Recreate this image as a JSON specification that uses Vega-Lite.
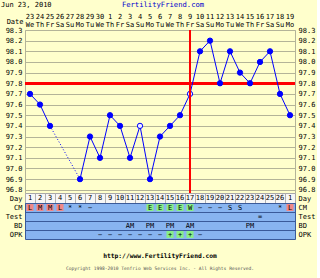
{
  "$schema": "https://vega.github.io/schema/vega-lite/v6.json",
  "background": "#FFFFCC",
  "padding": {"left": 1, "top": 0, "right": 1, "bottom": 0},
  "spacing": 0,
  "bounds": "flush",
  "resolve": {"scale": {"x": "shared"}},
  "config": {
    "font": "DejaVu Sans Mono",
    "view": {"stroke": null},
    "axis": {"labelFont": "DejaVu Sans Mono", "labelFontSize": 7, "labelColor": "#000000", "ticks": false, "domain": false, "labelPadding": 3},
    "text": {"font": "DejaVu Sans Mono", "fontSize": 7, "color": "#000000"}
  },
  "datasets": {
    "days": [
      {"day": 1, "num": "23", "wd": "We", "cd": "1"},
      {"day": 2, "num": "24", "wd": "Th", "cd": "2"},
      {"day": 3, "num": "25", "wd": "Fr", "cd": "3"},
      {"day": 4, "num": "26", "wd": "Sa", "cd": "4"},
      {"day": 5, "num": "27", "wd": "Su", "cd": "5"},
      {"day": 6, "num": "28", "wd": "Mo", "cd": "6"},
      {"day": 7, "num": "29", "wd": "Tu", "cd": "7"},
      {"day": 8, "num": "30", "wd": "We", "cd": "8"},
      {"day": 9, "num": "1", "wd": "Th", "cd": "9"},
      {"day": 10, "num": "2", "wd": "Fr", "cd": "10"},
      {"day": 11, "num": "3", "wd": "Sa", "cd": "11"},
      {"day": 12, "num": "4", "wd": "Su", "cd": "12"},
      {"day": 13, "num": "5", "wd": "Mo", "cd": "13"},
      {"day": 14, "num": "6", "wd": "Tu", "cd": "14"},
      {"day": 15, "num": "7", "wd": "We", "cd": "15"},
      {"day": 16, "num": "8", "wd": "Th", "cd": "16"},
      {"day": 17, "num": "9", "wd": "Fr", "cd": "17"},
      {"day": 18, "num": "10", "wd": "Sa", "cd": "18"},
      {"day": 19, "num": "11", "wd": "Su", "cd": "19"},
      {"day": 20, "num": "12", "wd": "Mo", "cd": "20"},
      {"day": 21, "num": "13", "wd": "Tu", "cd": "21"},
      {"day": 22, "num": "14", "wd": "We", "cd": "22"},
      {"day": 23, "num": "15", "wd": "Th", "cd": "23"},
      {"day": 24, "num": "16", "wd": "Fr", "cd": "24"},
      {"day": 25, "num": "17", "wd": "Sa", "cd": "25"},
      {"day": 26, "num": "18", "wd": "Su", "cd": "26"},
      {"day": 27, "num": "19", "wd": "Mo", "cd": "1"}
    ],
    "temps": [
      {"day": 1, "t": 97.7}, {"day": 2, "t": 97.6}, {"day": 3, "t": 97.4},
      {"day": 4, "t": null}, {"day": 5, "t": null}, {"day": 6, "t": 96.9},
      {"day": 7, "t": 97.3}, {"day": 8, "t": 97.1}, {"day": 9, "t": 97.5},
      {"day": 10, "t": 97.4}, {"day": 11, "t": 97.1}, {"day": 12, "t": 97.4, "open": true},
      {"day": 13, "t": 96.9}, {"day": 14, "t": 97.3}, {"day": 15, "t": 97.4},
      {"day": 16, "t": 97.5}, {"day": 17, "t": 97.7, "open": true}, {"day": 18, "t": 98.1},
      {"day": 19, "t": 98.2}, {"day": 20, "t": 97.8}, {"day": 21, "t": 98.1},
      {"day": 22, "t": 97.9}, {"day": 23, "t": 97.8}, {"day": 24, "t": 98.0},
      {"day": 25, "t": 98.1}, {"day": 26, "t": 97.7}, {"day": 27, "t": 97.5}
    ],
    "obs": [
      {"day": 1, "row": "CM", "v": "L"}, {"day": 2, "row": "CM", "v": "M"},
      {"day": 3, "row": "CM", "v": "M"}, {"day": 4, "row": "CM", "v": "L"},
      {"day": 5, "row": "CM", "v": "*"}, {"day": 6, "row": "CM", "v": "*"},
      {"day": 7, "row": "CM", "v": "−"}, {"day": 13, "row": "CM", "v": "E"},
      {"day": 14, "row": "CM", "v": "E"}, {"day": 15, "row": "CM", "v": "E"},
      {"day": 16, "row": "CM", "v": "E"}, {"day": 17, "row": "CM", "v": "W"},
      {"day": 18, "row": "CM", "v": "−"}, {"day": 19, "row": "CM", "v": "−"},
      {"day": 20, "row": "CM", "v": "−"}, {"day": 21, "row": "CM", "v": "S"},
      {"day": 22, "row": "CM", "v": "S"}, {"day": 26, "row": "CM", "v": "*"},
      {"day": 27, "row": "CM", "v": "L"},
      {"day": 24, "row": "Test", "v": "="},
      {"day": 11, "row": "BD", "v": "AM"}, {"day": 13, "row": "BD", "v": "PM"},
      {"day": 15, "row": "BD", "v": "PM"}, {"day": 17, "row": "BD", "v": "AM"},
      {"day": 23, "row": "BD", "v": "PM"},
      {"day": 8, "row": "OPK", "v": "−"}, {"day": 9, "row": "OPK", "v": "−"},
      {"day": 10, "row": "OPK", "v": "−"}, {"day": 11, "row": "OPK", "v": "−"},
      {"day": 12, "row": "OPK", "v": "−"}, {"day": 13, "row": "OPK", "v": "−"},
      {"day": 14, "row": "OPK", "v": "−"}, {"day": 15, "row": "OPK", "v": "+"},
      {"day": 16, "row": "OPK", "v": "+"}, {"day": 17, "row": "OPK", "v": "+"},
      {"day": 18, "row": "OPK", "v": "−"}
    ],
    "footer": [
      {"line": "url", "s": "http://www.FertilityFriend.com"},
      {"line": "copy", "s": "Copyright 1998-2010 Tenfrio Web Services Inc. - All Rights Reserved."}
    ]
  },
  "vconcat": [
    {
      "width": 270, "height": 30,
      "data": {"name": "days"},
      "layer": [
        {
          "mark": {"type": "text", "dy": 2},
          "encoding": {
            "x": {"field": "day", "type": "ordinal", "scale": {"type": "band", "paddingInner": 0, "paddingOuter": 0}, "axis": null},
            "y": {"datum": "n", "type": "nominal", "scale": {"domain": ["h", "n", "w"]}, "axis": {"orient": "left", "labels": false, "grid": false, "title": "Date", "titleAngle": 0, "titleAlign": "right", "titleBaseline": "middle", "titleFont": "DejaVu Sans Mono", "titleFontSize": 7, "titleFontWeight": "normal", "titleColor": "#000000", "titleX": -2, "titleY": 21}},
            "text": {"field": "num"}
          }
        },
        {
          "mark": {"type": "text"},
          "encoding": {
            "x": {"field": "day", "type": "ordinal", "axis": null},
            "y": {"datum": "w", "type": "nominal"},
            "text": {"field": "wd"}
          }
        },
        {
          "data": {"values": [{"s": "FertilityFriend.com"}]},
          "mark": {"type": "text", "color": "#0000CC", "fontSize": 7.2, "dx": 3},
          "encoding": {
            "y": {"datum": "h", "type": "nominal"},
            "text": {"field": "s"}
          }
        },
        {
          "data": {"values": [{"s": "Jun 23, 2010"}]},
          "mark": {"type": "text", "align": "left", "dx": -29},
          "encoding": {
            "x": {"datum": 1, "type": "ordinal", "axis": null},
            "y": {"datum": "h", "type": "nominal"},
            "text": {"field": "s"}
          }
        }
      ]
    },
    {
      "width": 270, "height": 163,
      "view": {"stroke": "#B4B498"},
      "data": {"name": "temps"},
      "resolve": {"axis": {"y": "independent"}},
      "layer": [
        {
          "mark": {"type": "rule", "color": "#FF0000", "strokeWidth": 2},
          "encoding": {
            "y": {"datum": 97.8, "type": "quantitative", "scale": {"domain": [96.77, 98.3], "nice": false, "zero": false}, "axis": {"orient": "left", "title": null, "values": [96.8, 96.9, 97.0, 97.1, 97.2, 97.3, 97.4, 97.5, 97.6, 97.7, 97.8, 97.9, 98.0, 98.1, 98.2, 98.3], "format": ".1f", "grid": true, "gridColor": "#B4B498"}}
          }
        },
        {
          "mark": {"type": "line", "color": "#0000FF", "strokeWidth": 1, "invalid": "break-paths-show-domains"},
          "encoding": {
            "x": {"field": "day", "type": "ordinal", "axis": {"orient": "top", "title": null, "labels": false, "grid": true, "gridColor": "#B4B498", "bandPosition": 0}},
            "y": {"field": "t", "type": "quantitative", "axis": {"orient": "right", "title": null, "values": [96.8, 96.9, 97.0, 97.1, 97.2, 97.3, 97.4, 97.5, 97.6, 97.7, 97.8, 97.9, 98.0, 98.1, 98.2, 98.3], "format": ".1f", "grid": false}}
          }
        },
        {
          "transform": [{"filter": "datum.day == 3 || datum.day == 6"}],
          "mark": {"type": "line", "color": "#0000FF", "strokeWidth": 1, "strokeDash": [1, 2]},
          "encoding": {
            "x": {"field": "day", "type": "ordinal", "axis": null},
            "y": {"field": "t", "type": "quantitative", "axis": null}
          }
        },
        {
          "transform": [{"filter": "isValid(datum.t)"}],
          "mark": {"type": "circle", "size": 28, "stroke": "#0000FF", "strokeWidth": 1, "opacity": 1},
          "encoding": {
            "x": {"field": "day", "type": "ordinal", "axis": null},
            "y": {"field": "t", "type": "quantitative", "axis": null},
            "fill": {"condition": {"test": "datum.open === true", "value": "#EEEEFF"}, "value": "#0000FF"}
          }
        },
        {
          "mark": {"type": "rule", "color": "#FF0000", "strokeWidth": 2},
          "encoding": {
            "x": {"datum": 17, "type": "ordinal", "axis": null}
          }
        }
      ]
    },
    {
      "width": 270, "height": 10,
      "view": {"fill": "#F6F6F6", "stroke": "#A8A8A8"},
      "data": {"name": "days"},
      "resolve": {"axis": {"y": "independent"}},
      "layer": [
        {
          "mark": {"type": "text"},
          "encoding": {
            "x": {"field": "day", "type": "ordinal", "axis": {"orient": "bottom", "title": null, "labels": false, "grid": true, "gridColor": "#B0B0B0", "bandPosition": 0}},
            "y": {"datum": "Day", "type": "nominal", "axis": {"orient": "left", "title": null}},
            "text": {"field": "cd"}
          }
        },
        {
          "mark": {"type": "text", "text": ""},
          "encoding": {
            "y": {"datum": "Day", "type": "nominal", "axis": {"orient": "right", "title": null}}
          }
        }
      ]
    },
    {
      "width": 270, "height": 36,
      "view": {"fill": "#88B4F0", "stroke": "#3A5A9A"},
      "data": {"name": "obs"},
      "resolve": {"axis": {"y": "independent"}},
      "layer": [
        {
          "transform": [{"filter": "indexof(['L','M','E','W','+'], datum.v) >= 0"}],
          "mark": {"type": "square", "size": 50, "opacity": 1},
          "encoding": {
            "x": {"field": "day", "type": "ordinal", "axis": {"orient": "bottom", "title": null, "labels": false, "grid": true, "gridColor": "#5A80C0", "bandPosition": 0}},
            "y": {"field": "row", "type": "nominal", "scale": {"type": "band", "paddingInner": 0, "paddingOuter": 0, "domain": ["CM", "Test", "BD", "OPK"]}, "axis": {"orient": "left", "title": null, "grid": true, "gridColor": "#3A5A9A", "bandPosition": 0}},
            "color": {"field": "v", "type": "nominal", "scale": {"domain": ["L", "M", "E", "W", "+"], "range": ["#F08888", "#F08888", "#88EE88", "#88EE88", "#88EE88"]}, "legend": null}
          }
        },
        {
          "mark": {"type": "text"},
          "encoding": {
            "x": {"field": "day", "type": "ordinal", "axis": null},
            "y": {"field": "row", "type": "nominal", "axis": {"orient": "right", "title": null}},
            "text": {"field": "v"}
          }
        }
      ]
    },
    {
      "width": 270, "height": 39,
      "data": {"name": "footer"},
      "layer": [
        {
          "transform": [{"filter": "datum.line == 'url'"}],
          "mark": {"type": "text", "fontWeight": "bold", "fontSize": 6.3},
          "encoding": {
            "y": {"field": "line", "type": "nominal", "scale": {"type": "point", "domain": ["url", "copy"], "padding": 1.45, "align": 0.655}, "axis": null},
            "text": {"field": "s"}
          }
        },
        {
          "transform": [{"filter": "datum.line == 'copy'"}],
          "mark": {"type": "text", "fontSize": 4.6, "color": "#555555"},
          "encoding": {
            "y": {"field": "line", "type": "nominal", "axis": null},
            "text": {"field": "s"}
          }
        }
      ]
    }
  ]
}
